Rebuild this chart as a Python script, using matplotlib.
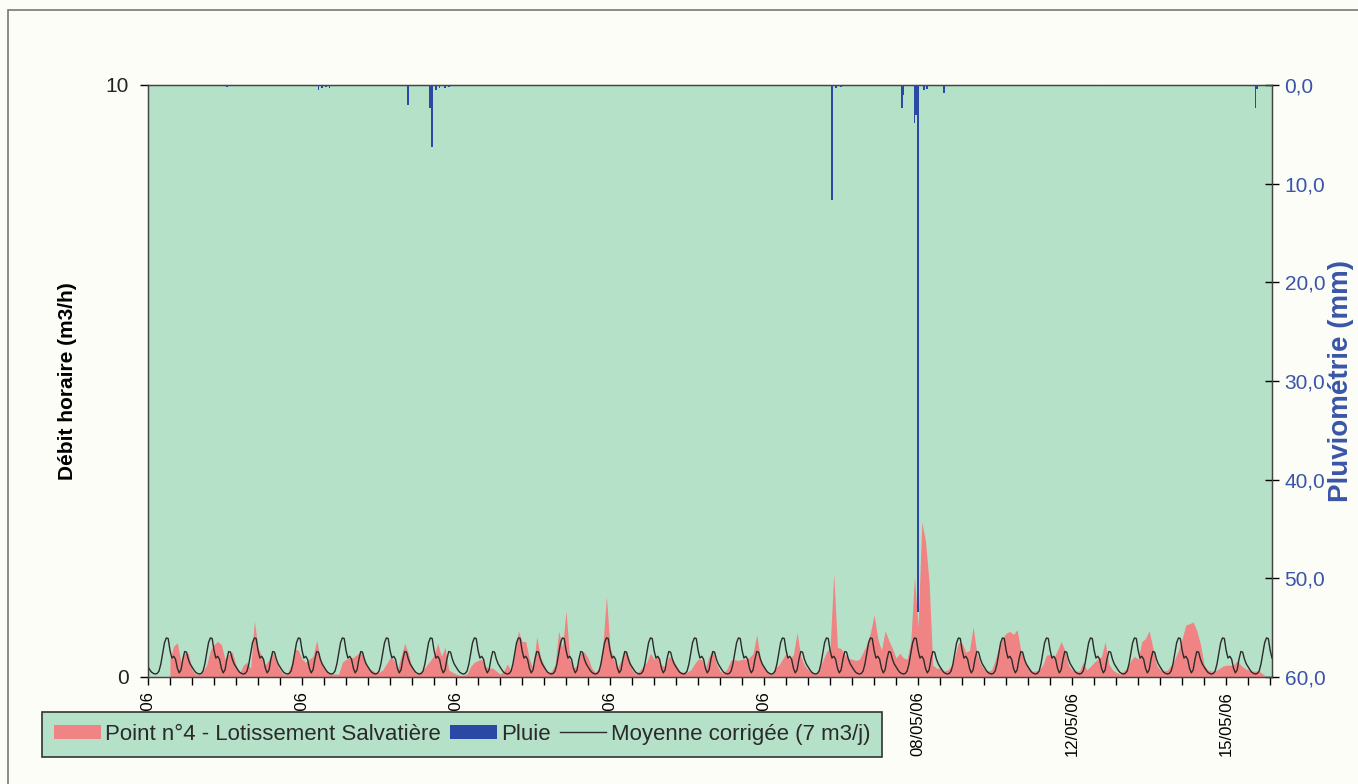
import numpy as np
import matplotlib
matplotlib.use("Agg")
import matplotlib.pyplot as plt
from matplotlib.patches import Patch, Rectangle
from matplotlib.lines import Line2D

plt.rcParams['font.family'] = ['Liberation Sans', 'DejaVu Sans']

# x axis: hours since the first category (21/04/06 00h)
N_HOURS = 613
DATE_TICKS = [0, 84, 168, 252, 336, 420, 504, 588]
DATE_LABELS = ["21/04/06", "24/04/06", "28/04/06", "01/05/06",
               "05/05/06", "08/05/06", "12/05/06", "15/05/06"]

# hourly flow, Point n°4 (m3/h), one value every 2 hours from hour 12
FLOW_START = 12
FLOW = [
    0.30, 0.52, 0.58, 0.25, 0.40, 0.40, 0.12, 0.05, 0.05, 0.10, 0.20, 0.45,
    0.55, 0.60, 0.55, 0.30, 0.38, 0.42, 0.20, 0.07, 0.20, 0.25, 0.15, 0.95,
    0.50, 0.35, 0.20, 0.30, 0.42, 0.25, 0.12, 0.05, 0.05, 0.20, 0.48, 0.45,
    0.30, 0.25, 0.30, 0.35, 0.62, 0.30, 0.15, 0.08, 0.05, 0.05,
    # 104 ->
    0.05, 0.25, 0.30, 0.32, 0.33, 0.38, 0.43, 0.30, 0.15, 0.12, 0.08, 0.08,
    0.12, 0.22, 0.32, 0.30, 0.12, 0.35, 0.57, 0.40, 0.15, 0.05, 0.08, 0.12,
    0.20, 0.28, 0.37, 0.57, 0.35, 0.50, 0.12, 0.08, 0.05, 0.03, 0.03, 0.05,
    0.18, 0.25, 0.28, 0.30, 0.18, 0.15, 0.15, 0.10, 0.05, 0.10, 0.22, 0.10,
    0.40, 0.78, 0.60,
    # 206 ->
    0.60, 0.30, 0.15, 0.68, 0.35, 0.20, 0.06, 0.10, 0.20, 0.78, 0.50, 1.12,
    0.30, 0.15, 0.20, 0.40, 0.42, 0.32, 0.15, 0.08, 0.15, 0.50, 1.36, 0.50,
    0.30, 0.15, 0.28, 0.45, 0.35, 0.12, 0.05, 0.10, 0.18, 0.25, 0.40, 0.30,
    0.35, 0.20, 0.18, 0.35, 0.30, 0.20, 0.10, 0.08, 0.08, 0.12, 0.22, 0.30,
    0.30, 0.15, 0.35,
    # 308 ->
    0.45, 0.22, 0.10, 0.06, 0.15, 0.29, 0.29, 0.28, 0.30, 0.30, 0.33, 0.40,
    0.72, 0.30, 0.15, 0.08, 0.05, 0.15, 0.20, 0.30, 0.40, 0.30, 0.38, 0.75,
    0.35, 0.20, 0.12, 0.08, 0.05, 0.12, 0.28, 0.42, 0.50, 1.75, 0.50, 0.48,
    0.38, 0.32, 0.30, 0.28, 0.30, 0.42, 0.55, 0.75, 1.05, 0.65, 0.45, 0.78,
    0.62, 0.48, 0.32,
    # 410 ->
    0.40, 0.32, 0.30, 0.60, 1.69, 0.85, 2.62, 2.30, 1.60, 0.20, 0.15, 0.15,
    0.10, 0.12, 0.18, 0.35, 0.58, 0.57, 0.42, 0.45, 0.85, 0.40, 0.22, 0.13,
    0.10, 0.12, 0.28, 0.50, 0.65, 0.74, 0.77, 0.72, 0.80, 0.45, 0.28, 0.18,
    0.10, 0.10, 0.12, 0.20, 0.37, 0.38, 0.32, 0.45, 0.60, 0.45, 0.20, 0.12,
    0.10, 0.10, 0.25,
    # 512 ->
    0.12, 0.18, 0.25, 0.30, 0.35, 0.60, 0.22, 0.12, 0.08, 0.05, 0.10, 0.15,
    0.28, 0.35, 0.30, 0.60, 0.65, 0.78, 0.50, 0.20, 0.12, 0.10, 0.12, 0.20,
    0.30, 0.45, 0.65, 0.88, 0.90, 0.93, 0.78, 0.55, 0.20, 0.12, 0.10, 0.10,
    0.14, 0.18, 0.20, 0.20, 0.20, 0.28, 0.20, 0.15, 0.12, 0.10, 0.10, 0.10,
    0.05, 0.00,
]

# "Moyenne corrigée (7 m3/j)": hourly profile of one day, repeated each day
AVG_PROFILE = [0.17, 0.12, 0.08, 0.06, 0.05, 0.06, 0.10, 0.22, 0.40, 0.58,
               0.66, 0.65, 0.45, 0.32, 0.35, 0.30, 0.15, 0.07, 0.12, 0.30,
               0.43, 0.42, 0.30, 0.22]

# rain (mm), hour index and amount
RAIN_H = [43, 93, 95, 97, 99, 142, 154, 155, 157, 159, 162, 164, 373, 375,
          378, 394, 411, 412, 418, 419, 420, 423, 425, 434, 519, 604, 605]
RAIN_MM = [0.2, 0.5, 0.3, 0.2, 0.3, 2.0, 2.3, 6.3, 0.5, 0.3, 0.3, 0.2, 11.7,
           0.3, 0.2, 0.1, 2.3, 1.0, 3.9, 3.0, 53.4, 0.5, 0.4, 0.8, 0.1, 2.3,
           0.4]

GREEN = "#b5e1c9"
PINK = "#f08484"
BLUE = "#2a48a4"
BLUE_TXT = "#3a55a8"

fig = plt.figure(figsize=(13.58, 7.84), dpi=100)
fig.patch.set_facecolor("#fdfdf8")
# outer chart border of the scanned page
fig.add_artist(Rectangle((8 / 1358, -0.05), 1.2, 1 - 10 / 784 + 0.05,
                         transform=fig.transFigure, fill=False,
                         edgecolor="#777777", linewidth=1.2))

ax = fig.add_axes([148 / 1358, 1 - 677 / 784, (1272 - 148) / 1358, (677 - 85) / 784])
ax.set_facecolor(GREEN)

flow_h = FLOW_START + 2 * np.arange(len(FLOW))
ax.fill_between(flow_h, FLOW, 0, color=PINK, linewidth=0, zorder=2)

hours = np.arange(N_HOURS + 1)
avg = np.resize(AVG_PROFILE, len(hours))
ax.plot(hours, avg, color="#2b2b2b", linewidth=1.0, zorder=3)

ax.set_xlim(0, N_HOURS)
ax.set_ylim(0, 10)
ax.set_yticks([0, 10])
ax.set_yticklabels(["0", "10"], fontsize=15, color="#222222")
ax.tick_params(axis="y", direction="out", length=6, width=1, pad=8)
ax.set_xticks(DATE_TICKS)
ax.set_xticklabels(DATE_LABELS, rotation=90, fontsize=12, va="top", ha="center")
ax.set_xticks(np.arange(0, N_HOURS, 12), minor=True)
ax.tick_params(axis="x", which="both", direction="out", length=6, width=1, pad=4)
for s in ax.spines.values():
    s.set_color("#444444")
    s.set_linewidth(1.0)
ax.set_ylabel("Débit horaire (m3/h)", fontsize=15, fontweight="bold", labelpad=20)

ax2 = ax.twinx()
ax2.bar(RAIN_H, RAIN_MM, width=1.0, bottom=0, color=BLUE, linewidth=0, zorder=4)
ax2.set_ylim(60, 0)
ax2.set_yticks(np.arange(0, 61, 10))
ax2.set_yticklabels([f"{v},0" for v in range(0, 61, 10)], fontsize=15, color=BLUE_TXT)
ax2.tick_params(axis="y", direction="inout", length=10, width=1, pad=4)
ax2.set_ylabel("Pluviométrie (mm)", fontsize=20, fontweight="bold", color=BLUE_TXT,
               labelpad=2)
for s in ax2.spines.values():
    s.set_color("#444444")

handles = [Patch(facecolor=PINK, edgecolor="none"),
           Patch(facecolor=BLUE, edgecolor="none"),
           Line2D([], [], color="#2b2b2b", linewidth=1.0)]
leg = fig.legend(handles, ["Point n°4 - Lotissement Salvatière", "Pluie",
                           "Moyenne corrigée (7 m3/j)"],
                 loc="lower left", bbox_to_anchor=(42 / 1358, 27 / 784),
                 ncol=3, fontsize=16, frameon=True, fancybox=False,
                 handlelength=2.1, handleheight=0.65, handletextpad=0.2,
                 columnspacing=0.4, borderpad=0.55, borderaxespad=0)
leg.get_frame().set_facecolor(GREEN)
leg.get_frame().set_edgecolor("#333333")
leg.get_frame().set_linewidth(1.2)
leg.get_frame().set_alpha(1)
for t in leg.get_texts():
    t.set_color("#2a2a2a")

fig.savefig("out.png", dpi=100, facecolor=fig.get_facecolor())
